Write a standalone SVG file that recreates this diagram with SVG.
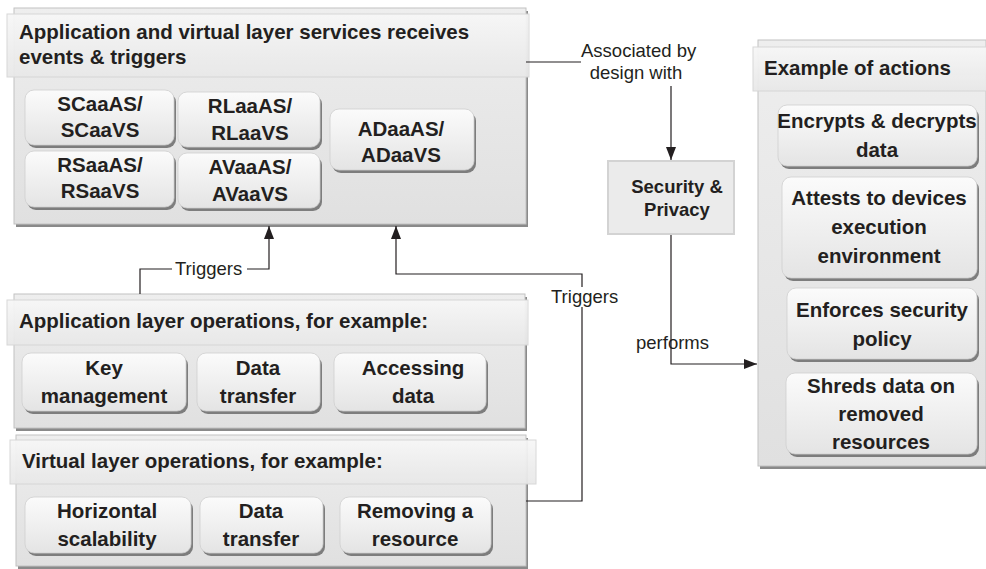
<svg xmlns="http://www.w3.org/2000/svg" width="986" height="569" viewBox="0 0 986 569">
<defs>
<linearGradient id="gPanel" x1="0" y1="0" x2="0" y2="1">
<stop offset="0" stop-color="#eeeeee"/><stop offset="1" stop-color="#e0e0e0"/>
</linearGradient>
<linearGradient id="gHead" x1="0" y1="0" x2="0" y2="1">
<stop offset="0" stop-color="#f7f7f7"/><stop offset="1" stop-color="#e8e8e8"/>
</linearGradient>
<linearGradient id="gBox" x1="0" y1="0" x2="0" y2="1">
<stop offset="0" stop-color="#fbfbfb"/><stop offset="1" stop-color="#e4e4e4"/>
</linearGradient>
<marker id="arr" markerUnits="userSpaceOnUse" markerWidth="14" markerHeight="10" refX="13" refY="5" orient="auto">
<path d="M0,0 L13,5 L0,10 z" fill="#231f20"/>
</marker>
<style>
.psh{fill:#8a8a8a}
.panel{fill:url(#gPanel);stroke:#c2c2c2;stroke-width:1}
.head{fill:url(#gHead);stroke:#d6d6d6;stroke-width:1;opacity:0.95}
.bsh{fill:#7d7d7d}
.box{fill:url(#gBox);stroke:#cfcfcf;stroke-width:0.8}
.t{font-family:"Liberation Sans",Arial,sans-serif;font-weight:bold;font-size:20.5px;fill:#231f20}
.c{text-anchor:middle}
.l{font-family:"Liberation Sans",Arial,sans-serif;font-size:18.5px;fill:#231f20}
.ln{fill:none;stroke:#231f20;stroke-width:1.2}
</style>
</defs>

<g id="services">
<rect class="psh" x="16" y="11" width="512" height="216"/>
<rect class="panel" x="14" y="8" width="512" height="216"/>
<rect class="head" x="7" y="14" width="522" height="63"/>
<text class="t" x="19" y="39">Application and virtual layer services receives</text>
<text class="t" x="19" y="64">events &amp; triggers</text>
</g>
<g id="scaas">
<rect class="bsh" x="27" y="93" width="149" height="55" rx="9"/>
<rect class="box" x="25" y="90" width="149" height="55" rx="9"/>
<text class="t c" x="100" y="111">SCaaAS/</text>
<text class="t c" x="100" y="137">SCaaVS</text>
</g>
<g id="rlaas">
<rect class="bsh" x="180" y="95" width="142" height="55" rx="9"/>
<rect class="box" x="178" y="92" width="142" height="55" rx="9"/>
<text class="t c" x="250" y="113">RLaaAS/</text>
<text class="t c" x="250" y="140">RLaaVS</text>
</g>
<g id="adaas">
<rect class="bsh" x="332" y="112" width="144" height="61" rx="9"/>
<rect class="box" x="330" y="109" width="144" height="61" rx="9"/>
<text class="t c" x="401" y="136">ADaaAS/</text>
<text class="t c" x="401" y="162">ADaaVS</text>
</g>
<g id="rsaas">
<rect class="bsh" x="27" y="154" width="149" height="56" rx="9"/>
<rect class="box" x="25" y="151" width="149" height="56" rx="9"/>
<text class="t c" x="100" y="172">RSaaAS/</text>
<text class="t c" x="100" y="198">RSaaVS</text>
</g>
<g id="avaas">
<rect class="bsh" x="180" y="156" width="142" height="55" rx="9"/>
<rect class="box" x="178" y="153" width="142" height="55" rx="9"/>
<text class="t c" x="250" y="174">AVaaAS/</text>
<text class="t c" x="250" y="201">AVaaVS</text>
</g>

<g id="app-ops">
<rect class="psh" x="16" y="297" width="511" height="134"/>
<rect class="panel" x="14" y="294" width="511" height="134"/>
<rect class="head" x="7" y="300" width="521" height="45"/>
<text class="t" x="19" y="328">Application layer operations, for example:</text>
</g>
<g id="key-mgmt">
<rect class="bsh" x="24" y="356" width="164" height="58" rx="9"/>
<rect class="box" x="22" y="353" width="164" height="58" rx="9"/>
<text class="t c" x="104" y="375">Key</text>
<text class="t c" x="104" y="403">management</text>
</g>
<g id="app-transfer">
<rect class="bsh" x="199" y="356" width="123" height="58" rx="9"/>
<rect class="box" x="197" y="353" width="123" height="58" rx="9"/>
<text class="t c" x="258" y="375">Data</text>
<text class="t c" x="258" y="403">transfer</text>
</g>
<g id="accessing">
<rect class="bsh" x="336" y="356" width="152" height="58" rx="9"/>
<rect class="box" x="334" y="353" width="152" height="58" rx="9"/>
<text class="t c" x="413" y="375">Accessing</text>
<text class="t c" x="413" y="403">data</text>
</g>

<g id="virt-ops">
<rect class="psh" x="18" y="438" width="510" height="131"/>
<rect class="panel" x="16" y="435" width="510" height="131"/>
<rect class="head" x="10" y="440" width="526" height="44"/>
<text class="t" x="22" y="468">Virtual layer operations, for example:</text>
</g>
<g id="horizontal">
<rect class="bsh" x="27" y="500" width="166" height="56" rx="9"/>
<rect class="box" x="25" y="497" width="166" height="56" rx="9"/>
<text class="t c" x="107" y="518">Horizontal</text>
<text class="t c" x="107" y="546">scalability</text>
</g>
<g id="virt-transfer">
<rect class="bsh" x="202" y="500" width="123" height="56" rx="9"/>
<rect class="box" x="200" y="497" width="123" height="56" rx="9"/>
<text class="t c" x="261" y="518">Data</text>
<text class="t c" x="261" y="546">transfer</text>
</g>
<g id="removing">
<rect class="bsh" x="342" y="500" width="151" height="56" rx="9"/>
<rect class="box" x="340" y="497" width="151" height="56" rx="9"/>
<text class="t c" x="415" y="518">Removing a</text>
<text class="t c" x="415" y="546">resource</text>
</g>

<g id="security">
<rect x="608" y="161" width="126" height="73" fill="#ebebeb" stroke="#d3d3d3" stroke-width="2"/>
<text class="t c" x="677" y="193" style="font-size:18.5px">Security &amp;</text>
<text class="t c" x="677" y="216" style="font-size:18.5px">Privacy</text>
</g>

<g id="actions">
<rect class="psh" x="760" y="43" width="226" height="426"/>
<rect class="panel" x="758" y="40" width="228" height="426"/>
<rect class="head" x="753" y="47" width="240" height="44"/>
<text class="t" x="764" y="75">Example of actions</text>
</g>
<g id="encrypts">
<rect class="bsh" x="780" y="108" width="199" height="61" rx="9"/>
<rect class="box" x="778" y="105" width="199" height="61" rx="9"/>
<text class="t c" x="877" y="128">Encrypts &amp; decrypts</text>
<text class="t c" x="877" y="157">data</text>
</g>
<g id="attests">
<rect class="bsh" x="784" y="180" width="195" height="101" rx="9"/>
<rect class="box" x="782" y="177" width="195" height="101" rx="9"/>
<text class="t c" x="879" y="205">Attests to devices</text>
<text class="t c" x="879" y="234">execution</text>
<text class="t c" x="879" y="263">environment</text>
</g>
<g id="enforces">
<rect class="bsh" x="789" y="291" width="190" height="71" rx="9"/>
<rect class="box" x="787" y="288" width="190" height="71" rx="9"/>
<text class="t c" x="882" y="317">Enforces security</text>
<text class="t c" x="882" y="346">policy</text>
</g>
<g id="shreds">
<rect class="bsh" x="788" y="376" width="191" height="81" rx="9"/>
<rect class="box" x="786" y="373" width="191" height="81" rx="9"/>
<text class="t c" x="881" y="393">Shreds data on</text>
<text class="t c" x="881" y="421">removed</text>
<text class="t c" x="881" y="449">resources</text>
</g>

<g id="connectors">
<path class="ln" d="M526,62 H581"/>
<text class="l" x="581" y="57">Associated by</text>
<text class="l c" x="636" y="79">design with</text>
<path class="ln" d="M671,86 V160" marker-end="url(#arr)"/>
<path class="ln" d="M671,235 V364 H757" marker-end="url(#arr)"/>
<text class="l" x="636" y="349">performs</text>
<path class="ln" d="M140,294 V269 H172"/>
<text class="l" x="175" y="275">Triggers</text>
<path class="ln" d="M247,269 H269 V226" marker-end="url(#arr)"/>
<path class="ln" d="M526,501 H582 V274 H396 V226" marker-end="url(#arr)"/>
<rect x="552" y="287" width="66" height="20" fill="#ffffff"/>
<text class="l" x="551" y="303">Triggers</text>
</g>
</svg>
